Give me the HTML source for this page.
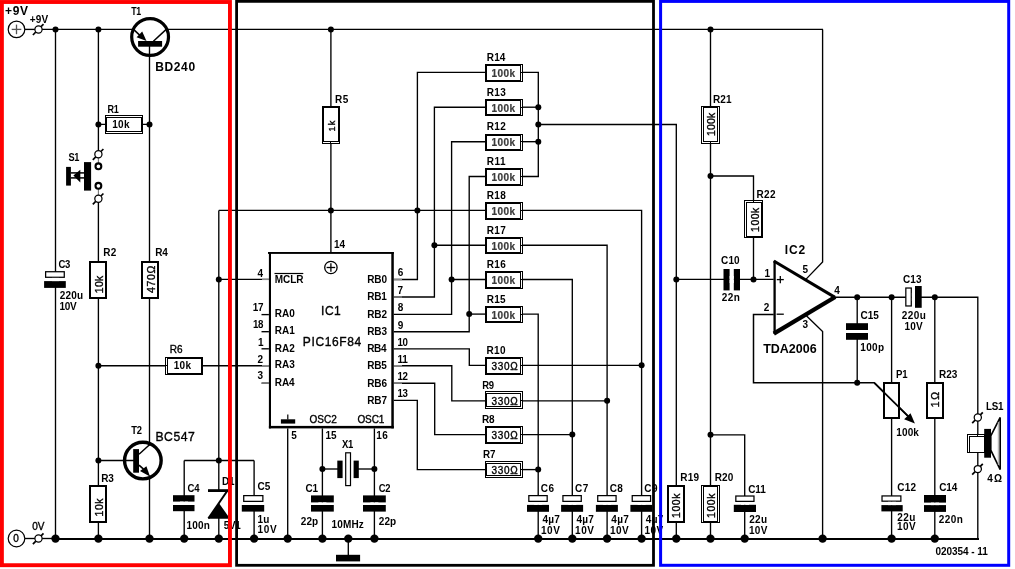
<!DOCTYPE html>
<html><head><meta charset="utf-8"><style>
html,body{margin:0;padding:0;background:#fff;}
body{width:1015px;height:569px;overflow:hidden;}
svg{display:block;font-family:"Liberation Sans",sans-serif;}
</style></head><body>
<svg width="1015" height="569" viewBox="0 0 1015 569">
<rect x="0" y="0" width="1015" height="569" fill="#fff"/>
<line x1="24.8" y1="29.4" x2="35" y2="29.4" stroke="#000" stroke-width="1.35"/>
<line x1="42" y1="29.4" x2="134.2" y2="29.4" stroke="#000" stroke-width="1.35"/>
<line x1="165.8" y1="29.4" x2="823" y2="29.4" stroke="#000" stroke-width="1.35"/>
<polyline points="822.6,29.4 822.6,262 805.6,279.6" fill="none" stroke="#000" stroke-width="1.35"/>
<polyline points="805.6,314.9 822.6,331.6 822.6,538.9" fill="none" stroke="#000" stroke-width="1.35"/>
<line x1="55.5" y1="29.4" x2="55.5" y2="272" stroke="#000" stroke-width="1.35"/>
<line x1="55.5" y1="287" x2="55.5" y2="538.9" stroke="#000" stroke-width="1.35"/>
<line x1="98.4" y1="29.4" x2="98.4" y2="150.8" stroke="#000" stroke-width="1.35"/>
<line x1="98.4" y1="157.6" x2="98.4" y2="163.4" stroke="#777" stroke-width="1.1"/>
<line x1="98.4" y1="188.8" x2="98.4" y2="195.2" stroke="#777" stroke-width="1.1"/>
<line x1="98.4" y1="202.3" x2="98.4" y2="538.9" stroke="#000" stroke-width="1.35"/>
<line x1="149.5" y1="44" x2="149.5" y2="445.4" stroke="#000" stroke-width="1.35"/>
<line x1="149.5" y1="475.5" x2="149.5" y2="538.9" stroke="#000" stroke-width="1.35"/>
<line x1="218.8" y1="210.4" x2="218.8" y2="490" stroke="#000" stroke-width="1.35"/>
<line x1="218.8" y1="518" x2="218.8" y2="538.9" stroke="#000" stroke-width="1.35"/>
<line x1="98.4" y1="124.4" x2="149.5" y2="124.4" stroke="#000" stroke-width="1.35"/>
<line x1="218.8" y1="210.4" x2="485.4" y2="210.4" stroke="#000" stroke-width="1.35"/>
<line x1="218.8" y1="279.4" x2="270" y2="279.4" stroke="#000" stroke-width="1.35"/>
<line x1="98.4" y1="365.7" x2="270" y2="365.7" stroke="#000" stroke-width="1.35"/>
<line x1="98.4" y1="460.5" x2="134" y2="460.5" stroke="#000" stroke-width="1.35"/>
<line x1="184.2" y1="460.5" x2="254.1" y2="460.5" stroke="#000" stroke-width="1.35"/>
<line x1="184.2" y1="460.5" x2="184.2" y2="538.9" stroke="#000" stroke-width="1.35"/>
<line x1="254.1" y1="460.5" x2="254.1" y2="538.9" stroke="#000" stroke-width="1.35"/>
<line x1="330.9" y1="29.4" x2="330.9" y2="253" stroke="#000" stroke-width="1.35"/>
<line x1="261.5" y1="314.6" x2="270" y2="314.6" stroke="#000" stroke-width="1.35"/>
<line x1="261.5" y1="331.7" x2="270" y2="331.7" stroke="#000" stroke-width="1.35"/>
<line x1="261.5" y1="348.8" x2="270" y2="348.8" stroke="#000" stroke-width="1.35"/>
<line x1="261.5" y1="383.1" x2="270" y2="383.1" stroke="#000" stroke-width="1.35"/>
<polyline points="392.5,279.5 417.4,279.5 417.4,72.4 485.4,72.4" fill="none" stroke="#000" stroke-width="1.35"/>
<polyline points="392.5,297 434.4,297 434.4,107.2 485.4,107.2" fill="none" stroke="#000" stroke-width="1.35"/>
<polyline points="392.5,314.3 451.6,314.3 451.6,141.7 485.4,141.7" fill="none" stroke="#000" stroke-width="1.35"/>
<polyline points="392.5,331.7 469.2,331.7 469.2,176.5 485.4,176.5" fill="none" stroke="#000" stroke-width="1.35"/>
<line x1="434.4" y1="245.2" x2="485.4" y2="245.2" stroke="#000" stroke-width="1.35"/>
<line x1="451.6" y1="279.5" x2="485.4" y2="279.5" stroke="#000" stroke-width="1.35"/>
<line x1="469.2" y1="314.1" x2="485.4" y2="314.1" stroke="#000" stroke-width="1.35"/>
<polyline points="392.5,348.8 469.3,348.8 469.3,365.3 485.4,365.3" fill="none" stroke="#000" stroke-width="1.35"/>
<polyline points="392.5,365.7 451.8,365.7 451.8,400.8 485.4,400.8" fill="none" stroke="#000" stroke-width="1.35"/>
<polyline points="392.5,383.2 434.7,383.2 434.7,434.6 485.4,434.6" fill="none" stroke="#000" stroke-width="1.35"/>
<polyline points="392.5,400.3 417.3,400.3 417.3,469.6 485.4,469.6" fill="none" stroke="#000" stroke-width="1.35"/>
<polyline points="522.6,72.4 538.3,72.4 538.3,176.5 522.6,176.5" fill="none" stroke="#000" stroke-width="1.35"/>
<line x1="522.6" y1="107.2" x2="538.3" y2="107.2" stroke="#000" stroke-width="1.35"/>
<line x1="522.6" y1="141.7" x2="538.3" y2="141.7" stroke="#000" stroke-width="1.35"/>
<polyline points="538.3,124.5 676.3,124.5 676.3,538.9" fill="none" stroke="#000" stroke-width="1.35"/>
<polyline points="522.6,210.4 641.6,210.4 641.6,538.9" fill="none" stroke="#000" stroke-width="1.35"/>
<polyline points="522.6,245.2 607.1,245.2 607.1,538.9" fill="none" stroke="#000" stroke-width="1.35"/>
<polyline points="522.6,279.5 572.3,279.5 572.3,538.9" fill="none" stroke="#000" stroke-width="1.35"/>
<polyline points="522.6,314.1 538.2,314.1 538.2,538.9" fill="none" stroke="#000" stroke-width="1.35"/>
<line x1="522.6" y1="365.3" x2="641.6" y2="365.3" stroke="#000" stroke-width="1.35"/>
<line x1="522.6" y1="400.8" x2="607.1" y2="400.8" stroke="#000" stroke-width="1.35"/>
<line x1="522.6" y1="434.6" x2="572.3" y2="434.6" stroke="#000" stroke-width="1.35"/>
<line x1="522.6" y1="469.6" x2="538.2" y2="469.6" stroke="#000" stroke-width="1.35"/>
<line x1="287.7" y1="427" x2="287.7" y2="538.9" stroke="#000" stroke-width="1.35"/>
<line x1="322.4" y1="427" x2="322.4" y2="538.9" stroke="#000" stroke-width="1.35"/>
<line x1="374.4" y1="427" x2="374.4" y2="538.9" stroke="#000" stroke-width="1.35"/>
<line x1="322.4" y1="469" x2="338" y2="469" stroke="#000" stroke-width="1.35"/>
<line x1="358" y1="469" x2="374.4" y2="469" stroke="#000" stroke-width="1.35"/>
<line x1="348.3" y1="538.9" x2="348.3" y2="555" stroke="#000" stroke-width="1.35"/>
<line x1="710.5" y1="29.4" x2="710.5" y2="538.9" stroke="#000" stroke-width="1.35"/>
<polyline points="710.5,176 753.5,176 753.5,279.4" fill="none" stroke="#000" stroke-width="1.35"/>
<line x1="676.3" y1="279.4" x2="773.7" y2="279.4" stroke="#000" stroke-width="1.35"/>
<polyline points="773.7,314.4 753.5,314.4 753.5,382.8 874.3,382.8 909.5,417.6" fill="none" stroke="#000" stroke-width="1.5"/>
<polyline points="710.5,434.8 744.7,434.8 744.7,538.9" fill="none" stroke="#000" stroke-width="1.35"/>
<polyline points="834.2,297.2 977.8,297.2 977.8,414" fill="none" stroke="#000" stroke-width="1.35"/>
<line x1="977.8" y1="421" x2="977.8" y2="435" stroke="#000" stroke-width="1.35"/>
<line x1="977.8" y1="452" x2="977.8" y2="465.6" stroke="#000" stroke-width="1.35"/>
<line x1="977.8" y1="472.6" x2="977.8" y2="538.9" stroke="#000" stroke-width="1.35"/>
<line x1="857.2" y1="297.2" x2="857.2" y2="382.8" stroke="#000" stroke-width="1.35"/>
<line x1="891.6" y1="297.2" x2="891.6" y2="538.9" stroke="#000" stroke-width="1.35"/>
<line x1="934.8" y1="297.2" x2="934.8" y2="538.9" stroke="#000" stroke-width="1.35"/>
<line x1="24.8" y1="538.5" x2="35" y2="538.5" stroke="#000" stroke-width="1.35"/>
<line x1="42" y1="538.5" x2="55.5" y2="538.5" stroke="#000" stroke-width="1.35"/>
<line x1="55.5" y1="538.9" x2="979" y2="538.9" stroke="#000" stroke-width="2"/>
<circle cx="16.5" cy="29.4" r="8.3" fill="#fff" stroke="#000" stroke-width="1.2"/>
<line x1="11.7" y1="29.4" x2="21.3" y2="29.4" stroke="#555" stroke-width="1.3"/>
<line x1="16.5" y1="24.6" x2="16.5" y2="34.2" stroke="#555" stroke-width="1.3"/>
<line x1="32.9" y1="35" x2="43.5" y2="24.2" stroke="#000" stroke-width="1.7"/>
<circle cx="38.5" cy="29.4" r="3.6" fill="#fff" stroke="#000" stroke-width="1.25"/>
<circle cx="16.5" cy="538.5" r="8.3" fill="#fff" stroke="#000" stroke-width="1.2"/>
<line x1="32.9" y1="544.1" x2="43.5" y2="533.3" stroke="#000" stroke-width="1.7"/>
<circle cx="38.5" cy="538.5" r="3.6" fill="#fff" stroke="#000" stroke-width="1.25"/>
<circle cx="150.1" cy="37" r="18.4" fill="none" stroke="#000" stroke-width="3.2"/>
<line x1="133.5" y1="29.4" x2="141.5" y2="36.9" stroke="#000" stroke-width="1.5"/>
<polygon points="146.5,41.1 136.6,37.3 142.2,31.5" fill="#000" stroke="none" stroke-width="0"/>
<line x1="153.4" y1="41.2" x2="166.2" y2="29.4" stroke="#000" stroke-width="1.5"/>
<rect x="138.1" y="41" width="24" height="5.7" fill="#000"/>
<rect x="105" y="115" width="38" height="19" fill="#000"/>
<rect x="107" y="118" width="34" height="13" fill="#fff"/>
<rect x="106" y="116" width="36" height="1" fill="#fff"/>
<rect x="106" y="132" width="36" height="1" fill="#fff"/>
<line x1="92.8" y1="159.8" x2="103.4" y2="149" stroke="#000" stroke-width="1.7"/>
<circle cx="98.4" cy="154.2" r="3.6" fill="#fff" stroke="#000" stroke-width="1.25"/>
<line x1="92.8" y1="204.3" x2="103.4" y2="193.5" stroke="#000" stroke-width="1.7"/>
<circle cx="98.4" cy="198.7" r="3.6" fill="#fff" stroke="#000" stroke-width="1.25"/>
<circle cx="98.4" cy="166.3" r="2.9" fill="#fff" stroke="#000" stroke-width="2.1"/>
<circle cx="98.4" cy="185.8" r="2.9" fill="#fff" stroke="#000" stroke-width="2.1"/>
<rect x="84" y="162.1" width="7.1" height="28.5" fill="#000"/>
<rect x="66.1" y="166.9" width="4.8" height="18.7" fill="#000"/>
<line x1="70.9" y1="172.9" x2="84" y2="172.9" stroke="#000" stroke-width="1.5"/>
<line x1="70.9" y1="177.9" x2="84" y2="177.9" stroke="#000" stroke-width="1.5"/>
<polygon points="73.4,175.6 80.3,169.8 80.3,182.6" fill="#000" stroke="none" stroke-width="0"/>
<rect x="45.62" y="271.73" width="18.65" height="5.55" fill="#fff" stroke="#000" stroke-width="1.25"/>
<rect x="44.1" y="281.1" width="21.7" height="6.8" fill="#000"/>
<rect x="52" y="277.9" width="7" height="3.2" fill="#fff"/>
<rect x="89" y="261" width="18" height="38" fill="#000"/>
<rect x="91" y="263" width="14" height="34" fill="#fff"/>
<rect x="141" y="261" width="18" height="38" fill="#000"/>
<rect x="143" y="263" width="14" height="34" fill="#fff"/>
<rect x="165" y="357" width="38" height="18" fill="#000"/>
<rect x="168" y="359" width="33" height="14" fill="#fff"/>
<rect x="166" y="358" width="1" height="7" fill="#fff"/>
<rect x="166" y="366" width="1" height="8" fill="#fff"/>
<circle cx="142.85" cy="460.6" r="18.3" fill="none" stroke="#000" stroke-width="3.4"/>
<rect x="133.2" y="449.1" width="5.8" height="23.6" fill="#000"/>
<line x1="139" y1="454.3" x2="149.5" y2="444.8" stroke="#000" stroke-width="1.5"/>
<line x1="139" y1="465.2" x2="143.5" y2="469.2" stroke="#000" stroke-width="1.6"/>
<polygon points="150,476.5 140,470.9 146.4,466.3" fill="#000" stroke="none" stroke-width="0"/>
<rect x="89" y="485" width="18" height="38" fill="#000"/>
<rect x="91" y="487" width="14" height="34" fill="#fff"/>
<rect x="173" y="495.2" width="21.5" height="6.4" fill="#000"/>
<rect x="173" y="505" width="21.5" height="6.2" fill="#000"/>
<rect x="180" y="501.6" width="8" height="3.4" fill="#fff"/>
<rect x="208" y="489.2" width="21" height="2.8" fill="#000"/>
<line x1="227.2" y1="491" x2="208.4" y2="518.4" stroke="#000" stroke-width="2"/>
<polygon points="219,503.2 208,518.7 230,518.7" fill="#000" stroke="none" stroke-width="0"/>
<rect x="243.72" y="495.62" width="19.15" height="5.75" fill="#fff" stroke="#000" stroke-width="1.25"/>
<rect x="241.8" y="505" width="22.4" height="6.6" fill="#000"/>
<rect x="250" y="502" width="8" height="3" fill="#fff"/>
<line x1="262" y1="279.4" x2="268.9" y2="279.4" stroke="#8a8a8a" stroke-width="1.35"/>
<line x1="262" y1="365.7" x2="268.9" y2="365.7" stroke="#8a8a8a" stroke-width="1.35"/>
<line x1="262" y1="383.1" x2="268.9" y2="383.1" stroke="#8a8a8a" stroke-width="1.35"/>
<line x1="393.8" y1="279.5" x2="402" y2="279.5" stroke="#8a8a8a" stroke-width="1.35"/>
<line x1="393.8" y1="297" x2="402" y2="297" stroke="#8a8a8a" stroke-width="1.35"/>
<line x1="393.8" y1="365.7" x2="402" y2="365.7" stroke="#8a8a8a" stroke-width="1.35"/>
<line x1="393.8" y1="383.2" x2="402" y2="383.2" stroke="#8a8a8a" stroke-width="1.35"/>
<rect x="322" y="106" width="18" height="38" fill="#000"/>
<rect x="324" y="108" width="14" height="33" fill="#fff"/>
<rect x="323" y="142" width="7" height="1" fill="#fff"/>
<rect x="331" y="142" width="8" height="1" fill="#fff"/>
<rect x="268.9" y="252.2" width="124.9" height="176.2" fill="#fff"/>
<rect x="268" y="252" width="125.8" height="1.9" fill="#000"/>
<rect x="268.9" y="252" width="2.1" height="176.4" fill="#000"/>
<rect x="391.3" y="252" width="2.5" height="176.4" fill="#000"/>
<rect x="268.9" y="425.9" width="124.9" height="2.5" fill="#000"/>
<circle cx="330.9" cy="267.5" r="6.2" fill="#fff" stroke="#000" stroke-width="1.3"/>
<line x1="326.6" y1="267.5" x2="335.2" y2="267.5" stroke="#000" stroke-width="1.3"/>
<line x1="330.9" y1="263.2" x2="330.9" y2="271.8" stroke="#000" stroke-width="1.3"/>
<line x1="274.5" y1="273.5" x2="303.3" y2="273.5" stroke="#000" stroke-width="1.2"/>
<rect x="280.9" y="419.3" width="14.3" height="4.3" fill="#000"/>
<line x1="287.8" y1="414.4" x2="287.8" y2="419.5" stroke="#000" stroke-width="1.2"/>
<rect x="485" y="64" width="38" height="18" fill="#000"/>
<rect x="487" y="66" width="33" height="14" fill="#fff"/>
<rect x="521" y="65" width="1" height="7" fill="#fff"/>
<rect x="521" y="73" width="1" height="8" fill="#fff"/>
<rect x="485" y="99" width="38" height="17" fill="#000"/>
<rect x="487" y="101" width="33" height="13" fill="#fff"/>
<rect x="521" y="100" width="1" height="7" fill="#fff"/>
<rect x="521" y="108" width="1" height="7" fill="#fff"/>
<rect x="485" y="134" width="38" height="17" fill="#000"/>
<rect x="487" y="136" width="33" height="13" fill="#fff"/>
<rect x="521" y="135" width="1" height="6" fill="#fff"/>
<rect x="521" y="142" width="1" height="8" fill="#fff"/>
<rect x="485" y="168" width="38" height="18" fill="#000"/>
<rect x="487" y="170" width="33" height="14" fill="#fff"/>
<rect x="521" y="169" width="1" height="7" fill="#fff"/>
<rect x="521" y="177" width="1" height="8" fill="#fff"/>
<rect x="485" y="202" width="38" height="18" fill="#000"/>
<rect x="487" y="204" width="33" height="14" fill="#fff"/>
<rect x="521" y="203" width="1" height="7" fill="#fff"/>
<rect x="521" y="211" width="1" height="8" fill="#fff"/>
<rect x="485" y="237" width="38" height="17" fill="#000"/>
<rect x="487" y="239" width="33" height="13" fill="#fff"/>
<rect x="521" y="238" width="1" height="7" fill="#fff"/>
<rect x="521" y="246" width="1" height="7" fill="#fff"/>
<rect x="485" y="271" width="38" height="18" fill="#000"/>
<rect x="487" y="273" width="33" height="14" fill="#fff"/>
<rect x="521" y="272" width="1" height="7" fill="#fff"/>
<rect x="521" y="280" width="1" height="8" fill="#fff"/>
<rect x="485" y="306" width="38" height="17" fill="#000"/>
<rect x="487" y="308" width="33" height="13" fill="#fff"/>
<rect x="521" y="307" width="1" height="7" fill="#fff"/>
<rect x="521" y="315" width="1" height="7" fill="#fff"/>
<rect x="485" y="357" width="38" height="18" fill="#000"/>
<rect x="487" y="359" width="33" height="14" fill="#fff"/>
<rect x="521" y="358" width="1" height="7" fill="#fff"/>
<rect x="521" y="366" width="1" height="8" fill="#fff"/>
<rect x="485" y="391" width="38" height="18" fill="#000"/>
<rect x="487" y="394" width="33" height="12" fill="#fff"/>
<rect x="521" y="392" width="1" height="8" fill="#fff"/>
<rect x="521" y="401" width="1" height="7" fill="#fff"/>
<rect x="486" y="392" width="36" height="1" fill="#fff"/>
<rect x="486" y="407" width="36" height="1" fill="#fff"/>
<rect x="485" y="426" width="38" height="18" fill="#000"/>
<rect x="487" y="428" width="33" height="14" fill="#fff"/>
<rect x="521" y="427" width="1" height="7" fill="#fff"/>
<rect x="521" y="435" width="1" height="8" fill="#fff"/>
<rect x="485" y="461" width="38" height="17" fill="#000"/>
<rect x="487" y="464" width="33" height="11" fill="#fff"/>
<rect x="521" y="462" width="1" height="7" fill="#fff"/>
<rect x="521" y="470" width="1" height="7" fill="#fff"/>
<rect x="486" y="462" width="36" height="1" fill="#fff"/>
<rect x="486" y="476" width="36" height="1" fill="#fff"/>
<rect x="528.83" y="495.62" width="18.35" height="5.75" fill="#fff" stroke="#000" stroke-width="1.25"/>
<rect x="527" y="504.9" width="22" height="6.9" fill="#000"/>
<rect x="534.2" y="502" width="8" height="2.9" fill="#fff"/>
<rect x="562.92" y="495.62" width="18.35" height="5.75" fill="#fff" stroke="#000" stroke-width="1.25"/>
<rect x="561.1" y="504.9" width="22" height="6.9" fill="#000"/>
<rect x="568.3" y="502" width="8" height="2.9" fill="#fff"/>
<rect x="597.73" y="495.62" width="18.35" height="5.75" fill="#fff" stroke="#000" stroke-width="1.25"/>
<rect x="595.9" y="504.9" width="22" height="6.9" fill="#000"/>
<rect x="603.1" y="502" width="8" height="2.9" fill="#fff"/>
<rect x="632.23" y="495.62" width="18.35" height="5.75" fill="#fff" stroke="#000" stroke-width="1.25"/>
<rect x="630.4" y="504.9" width="22" height="6.9" fill="#000"/>
<rect x="637.6" y="502" width="8" height="2.9" fill="#fff"/>
<rect x="311" y="495.4" width="22.8" height="7" fill="#000"/>
<rect x="311" y="505" width="22.8" height="6.6" fill="#000"/>
<rect x="318.4" y="502.4" width="8" height="2.6" fill="#fff"/>
<rect x="363" y="495.4" width="22.8" height="7" fill="#000"/>
<rect x="363" y="505" width="22.8" height="6.6" fill="#000"/>
<rect x="370.4" y="502.4" width="8" height="2.6" fill="#fff"/>
<rect x="337.3" y="460.6" width="5.3" height="17.5" fill="#000"/>
<rect x="345.7" y="452.8" width="4.8" height="32.8" fill="#fff" stroke="#000" stroke-width="1.2"/>
<rect x="353.6" y="460.6" width="5.2" height="17.5" fill="#000"/>
<rect x="336" y="554.8" width="24.1" height="6.6" fill="#000"/>
<rect x="701" y="106" width="19" height="38" fill="#000"/>
<rect x="704" y="108" width="13" height="33" fill="#fff"/>
<rect x="702" y="107" width="1" height="36" fill="#fff"/>
<rect x="718" y="107" width="1" height="36" fill="#fff"/>
<rect x="702" y="142" width="8" height="1" fill="#fff"/>
<rect x="711" y="142" width="8" height="1" fill="#fff"/>
<rect x="744" y="200" width="19" height="38" fill="#000"/>
<rect x="747" y="203" width="14" height="33" fill="#fff"/>
<rect x="745" y="201" width="1" height="36" fill="#fff"/>
<rect x="745" y="201" width="8" height="1" fill="#fff"/>
<rect x="754" y="201" width="8" height="1" fill="#fff"/>
<rect x="667" y="485" width="18" height="38" fill="#000"/>
<rect x="669" y="487" width="14" height="34" fill="#fff"/>
<rect x="701" y="485" width="19" height="38" fill="#000"/>
<rect x="704" y="487" width="13" height="34" fill="#fff"/>
<rect x="702" y="486" width="1" height="36" fill="#fff"/>
<rect x="718" y="486" width="1" height="36" fill="#fff"/>
<rect x="723.5" y="269" width="6.1" height="21.4" fill="#000"/>
<rect x="733.8" y="269" width="6.2" height="21.4" fill="#000"/>
<rect x="729.6" y="276" width="4.2" height="7" fill="#fff"/>
<polygon points="774.5,261.5 774.5,333.5 834.5,297.2" fill="#fff" stroke="none" stroke-width="0"/>
<line x1="774.6" y1="260.8" x2="774.6" y2="334" stroke="#000" stroke-width="2.3"/>
<line x1="773.8" y1="261" x2="835" y2="297.4" stroke="#000" stroke-width="3"/>
<line x1="773.8" y1="333.6" x2="835.2" y2="297" stroke="#000" stroke-width="4.3"/>
<line x1="776.8" y1="279.6" x2="783.8" y2="279.6" stroke="#000" stroke-width="1.3"/>
<line x1="780.3" y1="276" x2="780.3" y2="283.2" stroke="#000" stroke-width="1.3"/>
<line x1="776.6" y1="314.2" x2="783.8" y2="314.2" stroke="#000" stroke-width="1.3"/>
<rect x="735.83" y="496.02" width="18.15" height="5.35" fill="#fff" stroke="#000" stroke-width="1.25"/>
<rect x="733.8" y="504.8" width="22.2" height="7.2" fill="#000"/>
<rect x="741" y="502" width="8" height="2.8" fill="#fff"/>
<rect x="846" y="323.2" width="22" height="6.8" fill="#000"/>
<rect x="846" y="333" width="22" height="6.8" fill="#000"/>
<rect x="853" y="330" width="8" height="3" fill="#fff"/>
<rect x="905.83" y="288.02" width="5.45" height="17.95" fill="#fff" stroke="#000" stroke-width="1.25"/>
<rect x="915" y="286" width="6.7" height="21.8" fill="#000"/>
<rect x="911.9" y="293" width="3.1" height="8" fill="#fff"/>
<rect x="883" y="382" width="17" height="37" fill="#000"/>
<rect x="885" y="384" width="13" height="33" fill="#fff"/>
<line x1="874.3" y1="382.8" x2="908" y2="416.2" stroke="#000" stroke-width="1.7"/>
<polygon points="914.9,423.6 904.1,419.2 910.5,413.2" fill="#000" stroke="none" stroke-width="0"/>
<rect x="926" y="382" width="18" height="37" fill="#000"/>
<rect x="928" y="384" width="14" height="33" fill="#fff"/>
<rect x="882.02" y="495.93" width="18.85" height="5.25" fill="#fff" stroke="#000" stroke-width="1.25"/>
<rect x="881.4" y="505.1" width="21.3" height="6.3" fill="#000"/>
<rect x="888" y="501.8" width="8" height="3.3" fill="#fff"/>
<rect x="924" y="495" width="22" height="7.6" fill="#000"/>
<rect x="924" y="505.1" width="22" height="6.8" fill="#000"/>
<rect x="931" y="502.6" width="8" height="2.5" fill="#fff"/>
<line x1="972.2" y1="423.1" x2="982.8" y2="412.3" stroke="#000" stroke-width="1.7"/>
<circle cx="977.8" cy="417.5" r="3.6" fill="#fff" stroke="#000" stroke-width="1.25"/>
<line x1="972.2" y1="474.7" x2="982.8" y2="463.9" stroke="#000" stroke-width="1.7"/>
<circle cx="977.8" cy="469.1" r="3.6" fill="#fff" stroke="#000" stroke-width="1.25"/>
<rect x="967" y="434" width="18" height="19" fill="#000"/>
<rect x="970" y="437" width="14" height="15" fill="#fff"/>
<rect x="968" y="435" width="1" height="17" fill="#fff"/>
<rect x="968" y="435" width="9" height="1" fill="#fff"/>
<rect x="978" y="435" width="6" height="1" fill="#fff"/>
<polygon points="990.8,435.8 1000.2,417.4 1000.2,469.6 990.8,450.2" fill="#fff" stroke="#000" stroke-width="1.6"/>
<line x1="998.3" y1="422" x2="998.3" y2="465" stroke="#aaa" stroke-width="1"/>
<rect x="984.2" y="428.9" width="6.8" height="28.8" fill="#000"/>
<circle cx="55.5" cy="29.4" r="3" fill="#000"/>
<circle cx="98.4" cy="29.4" r="3" fill="#000"/>
<circle cx="330.9" cy="29.4" r="3" fill="#000"/>
<circle cx="710.5" cy="29.4" r="3" fill="#000"/>
<circle cx="98.4" cy="124.4" r="3" fill="#000"/>
<circle cx="149.5" cy="124.4" r="3" fill="#000"/>
<circle cx="218.8" cy="279.4" r="3" fill="#000"/>
<circle cx="98.4" cy="365.7" r="3" fill="#000"/>
<circle cx="98.4" cy="460.5" r="3" fill="#000"/>
<circle cx="218.8" cy="460.5" r="3" fill="#000"/>
<circle cx="330.9" cy="210.4" r="3" fill="#000"/>
<circle cx="417.4" cy="210.4" r="3" fill="#000"/>
<circle cx="434.4" cy="245.2" r="3" fill="#000"/>
<circle cx="451.6" cy="279.5" r="3" fill="#000"/>
<circle cx="469.2" cy="314.1" r="3" fill="#000"/>
<circle cx="538.3" cy="107.2" r="3" fill="#000"/>
<circle cx="538.3" cy="124.5" r="3" fill="#000"/>
<circle cx="538.3" cy="141.7" r="3" fill="#000"/>
<circle cx="641.6" cy="365.3" r="3" fill="#000"/>
<circle cx="607.1" cy="400.8" r="3" fill="#000"/>
<circle cx="572.3" cy="434.6" r="3" fill="#000"/>
<circle cx="538.2" cy="469.6" r="3" fill="#000"/>
<circle cx="322.4" cy="469" r="3" fill="#000"/>
<circle cx="374.4" cy="469" r="3" fill="#000"/>
<circle cx="676.3" cy="279.4" r="3" fill="#000"/>
<circle cx="753.5" cy="279.4" r="3" fill="#000"/>
<circle cx="710.5" cy="176" r="3" fill="#000"/>
<circle cx="710.5" cy="434.8" r="3" fill="#000"/>
<circle cx="857.2" cy="297.2" r="3" fill="#000"/>
<circle cx="891.6" cy="297.2" r="3" fill="#000"/>
<circle cx="934.8" cy="297.2" r="3" fill="#000"/>
<circle cx="857.2" cy="382.8" r="3" fill="#000"/>
<circle cx="55.5" cy="538.6" r="4.2" fill="#000"/>
<circle cx="98.4" cy="538.6" r="4.2" fill="#000"/>
<circle cx="149.5" cy="538.6" r="4.2" fill="#000"/>
<circle cx="184.2" cy="538.6" r="4.2" fill="#000"/>
<circle cx="218.8" cy="538.6" r="4.2" fill="#000"/>
<circle cx="254.1" cy="538.6" r="4.2" fill="#000"/>
<circle cx="287.7" cy="538.6" r="4.2" fill="#000"/>
<circle cx="322.4" cy="538.6" r="4.2" fill="#000"/>
<circle cx="348.3" cy="538.6" r="4.2" fill="#000"/>
<circle cx="374.4" cy="538.6" r="4.2" fill="#000"/>
<circle cx="538.2" cy="538.6" r="4.2" fill="#000"/>
<circle cx="572.3" cy="538.6" r="4.2" fill="#000"/>
<circle cx="607.1" cy="538.6" r="4.2" fill="#000"/>
<circle cx="641.6" cy="538.6" r="4.2" fill="#000"/>
<circle cx="676.3" cy="538.6" r="4.2" fill="#000"/>
<circle cx="710.5" cy="538.6" r="4.2" fill="#000"/>
<circle cx="744.7" cy="538.6" r="4.2" fill="#000"/>
<circle cx="822.6" cy="538.6" r="4.2" fill="#000"/>
<circle cx="891.6" cy="538.6" r="4.2" fill="#000"/>
<circle cx="934.8" cy="538.6" r="4.2" fill="#000"/>
<g style="filter:grayscale(1)">
<text x="5.02" y="15" font-size="12" font-weight="bold" letter-spacing="0.69" fill="#000">+9V</text>
<text x="29.7" y="23" font-size="10" font-weight="bold" letter-spacing="0.15" fill="#000">+9V</text>
<text x="32.3" y="530" font-size="10" letter-spacing="-0.15" fill="#000" stroke="#000" stroke-width="0.35">0V</text>
<text x="13.3" y="542" font-size="10" fill="#000" stroke="#000" stroke-width="0.35">0</text>
<text x="0" y="0" font-size="10" font-weight="bold" letter-spacing="-0.25" fill="#000" transform="translate(131.21 15) scale(0.881 1)">T1</text>
<text x="155.22" y="71" font-size="12" font-weight="bold" letter-spacing="0.63" fill="#000">BD240</text>
<text x="0" y="0" font-size="10" font-weight="bold" letter-spacing="-0.25" fill="#000" transform="translate(107.41 113) scale(0.907 1)">R1</text>
<text x="112.3" y="128" font-size="10" font-weight="bold" letter-spacing="0.23" fill="#000">10k</text>
<text x="0" y="0" font-size="10" font-weight="bold" letter-spacing="-0.25" fill="#000" transform="translate(68.42 161) scale(0.923 1)">S1</text>
<text x="0" y="0" font-size="10" font-weight="bold" letter-spacing="-0.25" fill="#000" transform="translate(58.42 268) scale(0.954 1)">C3</text>
<text x="59.65" y="299" font-size="10" font-weight="bold" letter-spacing="0.2" fill="#000">220u</text>
<text x="59.4" y="310" font-size="10" font-weight="bold" letter-spacing="-0.2" fill="#000">10V</text>
<text x="103.15" y="256" font-size="10" font-weight="bold" letter-spacing="0.5" fill="#000">R2</text>
<text x="0" y="0" font-size="10" font-weight="bold" letter-spacing="-0.25" fill="#000" transform="translate(155.25 256) scale(1.000 1)">R4</text>
<text x="0" y="0" font-size="10.5" letter-spacing="0.29" fill="#000" stroke="#000" stroke-width="0.35" transform="translate(103 293.19) rotate(-90)">10k</text>
<text x="0" y="0" font-size="10.5" letter-spacing="0.69" fill="#000" stroke="#000" stroke-width="0.35" transform="translate(155 293.01) rotate(-90)">470Ω</text>
<text x="169.8" y="353" font-size="10" letter-spacing="0.05" fill="#000" stroke="#000" stroke-width="0.35">R6</text>
<text x="173.7" y="369" font-size="10" font-weight="bold" letter-spacing="0.32" fill="#000">10k</text>
<text x="0" y="0" font-size="10" font-weight="bold" letter-spacing="-0.25" fill="#000" transform="translate(131.31 434) scale(0.937 1)">T2</text>
<text x="155.42" y="441" font-size="12.2" letter-spacing="0.55" fill="#000" stroke="#000" stroke-width="0.35">BC547</text>
<text x="101.15" y="482" font-size="10" font-weight="bold" letter-spacing="-0.05" fill="#000">R3</text>
<text x="0" y="0" font-size="10.5" letter-spacing="0.49" fill="#000" stroke="#000" stroke-width="0.35" transform="translate(103 516.39) rotate(-90)">10k</text>
<text x="0" y="0" font-size="10" font-weight="bold" letter-spacing="-0.25" fill="#000" transform="translate(187.62 492) scale(0.955 1)">C4</text>
<text x="186.4" y="529" font-size="10" font-weight="bold" letter-spacing="0.23" fill="#000">100n</text>
<text x="0" y="0" font-size="10" font-weight="bold" letter-spacing="-0.25" fill="#000" transform="translate(222.06 485) scale(0.992 1)">D1</text>
<text x="0" y="0" font-size="10" font-weight="bold" letter-spacing="-0.25" fill="#000" transform="translate(223.7 529) scale(0.986 1)">5V1</text>
<text x="257.6" y="490" font-size="10" font-weight="bold" letter-spacing="-0.1" fill="#000">C5</text>
<text x="257.4" y="523" font-size="10" font-weight="bold" letter-spacing="0.3" fill="#000">1u</text>
<text x="257.4" y="533" font-size="10" font-weight="bold" letter-spacing="0.75" fill="#000">10V</text>
<text x="335.05" y="103" font-size="10" font-weight="bold" letter-spacing="0.45" fill="#000">R5</text>
<text x="0" y="0" font-size="9.2" letter-spacing="1.08" fill="#000" stroke="#000" stroke-width="0.35" transform="translate(334.9 131.49) rotate(-90)">1k</text>
<text x="334" y="248" font-size="10" font-weight="bold" letter-spacing="-0.15" fill="#000">14</text>
<text x="274.85" y="283" font-size="10" font-weight="bold" letter-spacing="-0.07" fill="#000">MCLR</text>
<text x="257.45" y="277" font-size="10" font-weight="bold" fill="#000">4</text>
<text x="0" y="0" font-size="10" font-weight="bold" letter-spacing="-0.25" fill="#000" transform="translate(252.8 311) scale(0.995 1)">17</text>
<text x="0" y="0" font-size="10" font-weight="bold" letter-spacing="-0.25" fill="#000" transform="translate(252.91 328) scale(0.975 1)">18</text>
<text x="257.9" y="346" font-size="10" font-weight="bold" fill="#000">1</text>
<text x="257.45" y="363" font-size="10" font-weight="bold" fill="#000">2</text>
<text x="257.55" y="379" font-size="10" font-weight="bold" fill="#000">3</text>
<text x="321.12" y="315" font-size="12" letter-spacing="0.48" fill="#000" stroke="#000" stroke-width="0.35">IC1</text>
<text x="302.84" y="346" font-size="12" letter-spacing="0.62" fill="#000" stroke="#000" stroke-width="0.35">PIC16F84</text>
<text x="309.55" y="423" font-size="10" fill="#000" stroke="#000" stroke-width="0.35">OSC2</text>
<text x="357.45" y="423" font-size="10" letter-spacing="-0.13" fill="#000" stroke="#000" stroke-width="0.35">OSC1</text>
<text x="291.2" y="439" font-size="10" font-weight="bold" fill="#000">5</text>
<text x="325.4" y="439" font-size="10" font-weight="bold" letter-spacing="0.05" fill="#000">15</text>
<text x="376.3" y="439" font-size="10" font-weight="bold" letter-spacing="0.35" fill="#000">16</text>
<text x="0" y="0" font-size="10" font-weight="bold" letter-spacing="-0.25" fill="#000" transform="translate(341.91 448) scale(0.949 1)">X1</text>
<text x="0" y="0" font-size="10" font-weight="bold" letter-spacing="-0.25" fill="#000" transform="translate(305.5 492) scale(0.996 1)">C1</text>
<text x="300.85" y="525" font-size="10" font-weight="bold" fill="#000">22p</text>
<text x="0" y="0" font-size="10" font-weight="bold" letter-spacing="-0.25" fill="#000" transform="translate(378.82 492) scale(0.941 1)">C2</text>
<text x="378.85" y="525" font-size="10" font-weight="bold" fill="#000">22p</text>
<text x="331.5" y="528" font-size="10" font-weight="bold" letter-spacing="0.16" fill="#000">10MHz</text>
<text x="712.95" y="103" font-size="10" font-weight="bold" letter-spacing="0.12" fill="#000">R21</text>
<text x="0" y="0" font-size="10.5" letter-spacing="0.13" fill="#000" stroke="#000" stroke-width="0.35" transform="translate(715 135.99) rotate(-90)">100k</text>
<text x="756.55" y="198" font-size="10" font-weight="bold" letter-spacing="0.35" fill="#000">R22</text>
<text x="0" y="0" font-size="10.5" letter-spacing="0.43" fill="#000" stroke="#000" stroke-width="0.35" transform="translate(758.5 231.89) rotate(-90)">100k</text>
<text x="784.72" y="254" font-size="12" font-weight="bold" letter-spacing="0.9" fill="#000">IC2</text>
<text x="721.1" y="264" font-size="10" font-weight="bold" letter-spacing="0.08" fill="#000">C10</text>
<text x="721.65" y="301" font-size="10" font-weight="bold" letter-spacing="0.48" fill="#000">22n</text>
<text x="763.17" y="353" font-size="12.5" font-weight="bold" fill="#000">TDA2006</text>
<text x="860.4" y="319" font-size="10" font-weight="bold" letter-spacing="0.05" fill="#000">C15</text>
<text x="860.2" y="351" font-size="10" font-weight="bold" letter-spacing="0.4" fill="#000">100p</text>
<text x="903.1" y="283" font-size="10" font-weight="bold" letter-spacing="0.05" fill="#000">C13</text>
<text x="901.65" y="319" font-size="10" font-weight="bold" letter-spacing="0.47" fill="#000">220u</text>
<text x="904.6" y="330" font-size="10" font-weight="bold" letter-spacing="0.1" fill="#000">10V</text>
<text x="0" y="0" font-size="10" font-weight="bold" letter-spacing="-0.25" fill="#000" transform="translate(895.98 378) scale(0.960 1)">P1</text>
<text x="939.05" y="378" font-size="10" font-weight="bold" letter-spacing="-0.08" fill="#000">R23</text>
<text x="896.3" y="436" font-size="10" font-weight="bold" letter-spacing="0.12" fill="#000">100k</text>
<text x="0" y="0" font-size="10.5" letter-spacing="1.6" fill="#000" stroke="#000" stroke-width="0.35" transform="translate(939.4 407.19) rotate(-90)">1Ω</text>
<text x="0" y="0" font-size="10" font-weight="bold" letter-spacing="-0.25" fill="#000" transform="translate(986.06 410) scale(0.980 1)">LS1</text>
<text x="987.35" y="482" font-size="10" font-weight="bold" letter-spacing="1.2" fill="#000">4Ω</text>
<text x="680.25" y="481" font-size="10" font-weight="bold" letter-spacing="0.23" fill="#000">R19</text>
<text x="714.65" y="481" font-size="10" font-weight="bold" letter-spacing="0.15" fill="#000">R20</text>
<text x="0" y="0" font-size="10.5" letter-spacing="0.53" fill="#000" stroke="#000" stroke-width="0.35" transform="translate(680.4 517.89) rotate(-90)">100k</text>
<text x="0" y="0" font-size="10.5" letter-spacing="0.53" fill="#000" stroke="#000" stroke-width="0.35" transform="translate(715 517.89) rotate(-90)">100k</text>
<text x="748.2" y="493" font-size="10" font-weight="bold" letter-spacing="-0.13" fill="#000">C11</text>
<text x="749.15" y="523" font-size="10" font-weight="bold" letter-spacing="0.35" fill="#000">22u</text>
<text x="748.9" y="534" font-size="10" font-weight="bold" letter-spacing="0.35" fill="#000">10V</text>
<text x="897.3" y="491" font-size="10" font-weight="bold" letter-spacing="0.27" fill="#000">C12</text>
<text x="897.35" y="521" font-size="10" font-weight="bold" letter-spacing="0.35" fill="#000">22u</text>
<text x="897.1" y="530" font-size="10" font-weight="bold" letter-spacing="0.35" fill="#000">10V</text>
<text x="939.2" y="491" font-size="10" font-weight="bold" letter-spacing="-0.15" fill="#000">C14</text>
<text x="938.75" y="523" font-size="10" font-weight="bold" letter-spacing="0.45" fill="#000">220n</text>
<text x="935.5" y="555" font-size="10" font-weight="bold" letter-spacing="-0.06" fill="#000">020354 - 11</text>
<text x="274.85" y="317" font-size="10" font-weight="bold" fill="#000">RA0</text>
<text x="274.85" y="334" font-size="10" font-weight="bold" letter-spacing="-0.05" fill="#000">RA1</text>
<text x="274.85" y="352" font-size="10" font-weight="bold" fill="#000">RA2</text>
<text x="274.85" y="368" font-size="10" font-weight="bold" fill="#000">RA3</text>
<text x="274.85" y="386" font-size="10" font-weight="bold" letter-spacing="-0.15" fill="#000">RA4</text>
<text x="367.15" y="283" font-size="10" font-weight="bold" letter-spacing="-0.07" fill="#000">RB0</text>
<text x="397.65" y="276" font-size="10" font-weight="bold" fill="#000">6</text>
<text x="367.15" y="300" font-size="10" font-weight="bold" letter-spacing="-0.15" fill="#000">RB1</text>
<text x="397.6" y="294" font-size="10" font-weight="bold" fill="#000">7</text>
<text x="367.15" y="318" font-size="10" font-weight="bold" letter-spacing="-0.07" fill="#000">RB2</text>
<text x="397.7" y="311" font-size="10" font-weight="bold" fill="#000">8</text>
<text x="367.15" y="335" font-size="10" font-weight="bold" letter-spacing="-0.1" fill="#000">RB3</text>
<text x="397.65" y="329" font-size="10" font-weight="bold" fill="#000">9</text>
<text x="367.15" y="352" font-size="10" font-weight="bold" letter-spacing="-0.25" fill="#000">RB4</text>
<text x="0" y="0" font-size="10" font-weight="bold" letter-spacing="-0.25" fill="#000" transform="translate(397.41 346) scale(0.975 1)">10</text>
<text x="367.15" y="369" font-size="10" font-weight="bold" letter-spacing="-0.15" fill="#000">RB5</text>
<text x="397.4" y="363" font-size="10" font-weight="bold" letter-spacing="-0.1" fill="#000">11</text>
<text x="367.15" y="387" font-size="10" font-weight="bold" letter-spacing="-0.1" fill="#000">RB6</text>
<text x="0" y="0" font-size="10" font-weight="bold" letter-spacing="-0.25" fill="#000" transform="translate(397.41 380) scale(0.975 1)">12</text>
<text x="367.15" y="404" font-size="10" font-weight="bold" letter-spacing="-0.07" fill="#000">RB7</text>
<text x="0" y="0" font-size="10" font-weight="bold" letter-spacing="-0.25" fill="#000" transform="translate(397.42 397) scale(0.970 1)">13</text>
<text x="486.75" y="61" font-size="10" font-weight="bold" letter-spacing="0.17" fill="#000">R14</text>
<text x="491.5" y="77" font-size="10" font-weight="bold" letter-spacing="0.45" fill="#3a3a3a" stroke="#3a3a3a" stroke-width="0.2">100k</text>
<text x="486.75" y="96" font-size="10" font-weight="bold" letter-spacing="0.32" fill="#000">R13</text>
<text x="491.5" y="112" font-size="10" font-weight="bold" letter-spacing="0.45" fill="#3a3a3a" stroke="#3a3a3a" stroke-width="0.2">100k</text>
<text x="486.75" y="130" font-size="10" font-weight="bold" letter-spacing="0.35" fill="#000">R12</text>
<text x="491.5" y="146" font-size="10" font-weight="bold" letter-spacing="0.45" fill="#3a3a3a" stroke="#3a3a3a" stroke-width="0.2">100k</text>
<text x="486.75" y="165" font-size="10" font-weight="bold" letter-spacing="0.55" fill="#000">R11</text>
<text x="491.5" y="181" font-size="10" font-weight="bold" letter-spacing="0.45" fill="#3a3a3a" stroke="#3a3a3a" stroke-width="0.2">100k</text>
<text x="486.75" y="199" font-size="10" font-weight="bold" letter-spacing="0.3" fill="#000">R18</text>
<text x="491.5" y="215" font-size="10" font-weight="bold" letter-spacing="0.45" fill="#3a3a3a" stroke="#3a3a3a" stroke-width="0.2">100k</text>
<text x="486.75" y="234" font-size="10" font-weight="bold" letter-spacing="0.35" fill="#000">R17</text>
<text x="491.5" y="250" font-size="10" font-weight="bold" letter-spacing="0.45" fill="#3a3a3a" stroke="#3a3a3a" stroke-width="0.2">100k</text>
<text x="486.75" y="268" font-size="10" font-weight="bold" letter-spacing="0.32" fill="#000">R16</text>
<text x="491.5" y="284" font-size="10" font-weight="bold" letter-spacing="0.45" fill="#3a3a3a" stroke="#3a3a3a" stroke-width="0.2">100k</text>
<text x="486.75" y="303" font-size="10" font-weight="bold" letter-spacing="0.27" fill="#000">R15</text>
<text x="491.5" y="319" font-size="10" font-weight="bold" letter-spacing="0.45" fill="#3a3a3a" stroke="#3a3a3a" stroke-width="0.2">100k</text>
<text x="486.45" y="354" font-size="10" font-weight="bold" letter-spacing="0.4" fill="#000">R10</text>
<text x="491.4" y="370" font-size="10" letter-spacing="0.75" fill="#000" stroke="#000" stroke-width="0.35">330Ω</text>
<text x="0" y="0" font-size="10" font-weight="bold" letter-spacing="-0.25" fill="#000" transform="translate(482.18 389) scale(0.949 1)">R9</text>
<text x="491.4" y="405" font-size="10" letter-spacing="0.75" fill="#000" stroke="#000" stroke-width="0.35">330Ω</text>
<text x="481.95" y="423" font-size="10" font-weight="bold" letter-spacing="-0.1" fill="#000">R8</text>
<text x="491.4" y="439" font-size="10" letter-spacing="0.75" fill="#000" stroke="#000" stroke-width="0.35">330Ω</text>
<text x="0" y="0" font-size="10" font-weight="bold" letter-spacing="-0.25" fill="#000" transform="translate(483.06 458) scale(0.987 1)">R7</text>
<text x="491.4" y="474" font-size="10" letter-spacing="0.75" fill="#000" stroke="#000" stroke-width="0.35">330Ω</text>
<text x="540.8" y="492" font-size="10" font-weight="bold" letter-spacing="0.5" fill="#000">C6</text>
<text x="542.45" y="523" font-size="10" font-weight="bold" letter-spacing="0.25" fill="#000">4µ7</text>
<text x="541" y="534" font-size="10" font-weight="bold" letter-spacing="0.55" fill="#000">10V</text>
<text x="574.9" y="492" font-size="10" font-weight="bold" letter-spacing="0.55" fill="#000">C7</text>
<text x="576.55" y="523" font-size="10" font-weight="bold" letter-spacing="0.25" fill="#000">4µ7</text>
<text x="575.1" y="534" font-size="10" font-weight="bold" letter-spacing="0.55" fill="#000">10V</text>
<text x="609.7" y="492" font-size="10" font-weight="bold" letter-spacing="0.45" fill="#000">C8</text>
<text x="611.35" y="523" font-size="10" font-weight="bold" letter-spacing="0.25" fill="#000">4µ7</text>
<text x="609.9" y="534" font-size="10" font-weight="bold" letter-spacing="0.55" fill="#000">10V</text>
<text x="644.2" y="492" font-size="10" font-weight="bold" letter-spacing="0.5" fill="#000">C9</text>
<text x="645.85" y="523" font-size="10" font-weight="bold" letter-spacing="0.25" fill="#000">4µ7</text>
<text x="644.4" y="534" font-size="10" font-weight="bold" letter-spacing="0.55" fill="#000">10V</text>
<text x="764.4" y="277" font-size="10" font-weight="bold" fill="#000">1</text>
<text x="763.65" y="311" font-size="10" font-weight="bold" fill="#000">2</text>
<text x="802.4" y="273" font-size="10" font-weight="bold" fill="#000">5</text>
<text x="802.45" y="328" font-size="10" font-weight="bold" fill="#000">3</text>
<text x="834.25" y="294" font-size="10" font-weight="bold" fill="#000">4</text>
</g>
<rect x="1.9" y="2" width="228.05" height="563.2" fill="none" stroke="#f00" stroke-width="3.9"/>
<rect x="236.6" y="1.35" width="416.9" height="563.95" fill="none" stroke="#000" stroke-width="2.8"/>
<rect x="660.6" y="1.4" width="348.1" height="563.9" fill="none" stroke="#00f" stroke-width="3"/>
</svg>
</body></html>
